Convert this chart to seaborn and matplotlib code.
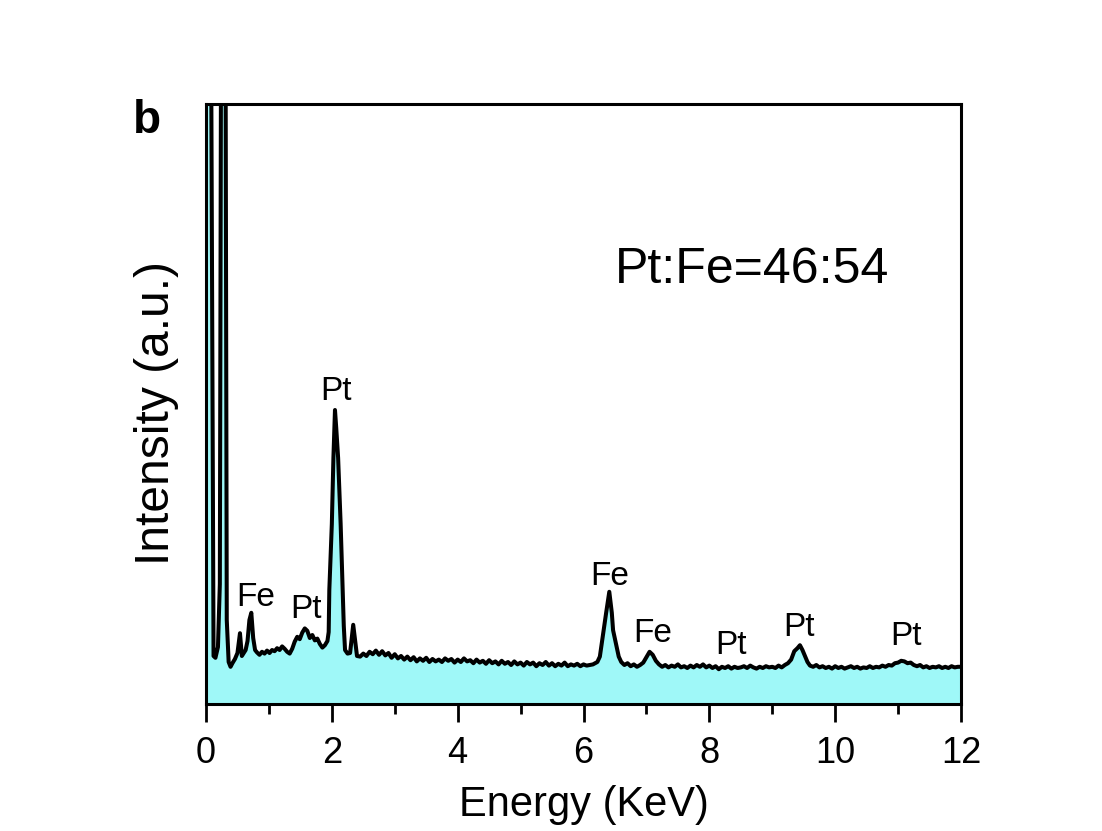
import matplotlib
matplotlib.use("Agg")
import matplotlib.pyplot as plt
import seaborn as sns
import pandas as pd
from matplotlib.ticker import MultipleLocator

# ---- data (energy in keV, intensity in a.u.) ----
energy = [
    0.00, 0.07, 0.12, 0.15, 0.19, 0.22, 0.245, 0.305, 0.33, 0.36, 0.39, 0.42, 0.46,
    0.50, 0.54, 0.57, 0.60, 0.63, 0.66, 0.69, 0.72, 0.75, 0.78, 0.81, 0.85, 0.89,
    0.93, 0.97, 1.01, 1.05, 1.09, 1.13, 1.17, 1.21, 1.25, 1.29, 1.33, 1.37, 1.41,
    1.45, 1.49, 1.53, 1.57, 1.61, 1.65, 1.69, 1.73, 1.77, 1.81, 1.85, 1.89, 1.93,
    1.95, 1.96, 2.00, 2.025, 2.05, 2.07, 2.10, 2.14, 2.17, 2.19, 2.21, 2.25, 2.29,
    2.34, 2.40, 2.45, 2.50, 2.55, 2.60, 2.65, 2.70, 2.75, 2.80, 2.85, 2.90, 2.95,
    3.00, 3.05, 3.10, 3.15, 3.20, 3.25, 3.30, 3.35, 3.40, 3.45, 3.50, 3.55, 3.60,
    3.65, 3.70, 3.75, 3.80, 3.85, 3.90, 3.95, 4.00, 4.05, 4.10, 4.15, 4.20, 4.25,
    4.30, 4.35, 4.40, 4.45, 4.50, 4.55, 4.60, 4.65, 4.70, 4.75, 4.80, 4.85, 4.90,
    4.95, 5.00, 5.05, 5.10, 5.15, 5.20, 5.25, 5.30, 5.35, 5.40, 5.45, 5.50, 5.55,
    5.60, 5.65, 5.70, 5.75, 5.80, 5.85, 5.90, 5.95, 6.00, 6.05, 6.10, 6.15, 6.22,
    6.26, 6.32, 6.36, 6.41, 6.45, 6.47, 6.56, 6.60, 6.65, 6.70, 6.75, 6.80, 6.85,
    6.90, 6.95, 7.00, 7.05, 7.10, 7.15, 7.20, 7.25, 7.30, 7.35, 7.40, 7.45, 7.50,
    7.55, 7.60, 7.65, 7.70, 7.75, 7.80, 7.85, 7.90, 7.95, 8.00, 8.05, 8.10, 8.15,
    8.20, 8.25, 8.30, 8.35, 8.40, 8.45, 8.50, 8.55, 8.60, 8.65, 8.70, 8.75, 8.80,
    8.85, 8.90, 8.95, 9.00, 9.05, 9.10, 9.15, 9.20, 9.25, 9.30, 9.35, 9.40, 9.44,
    9.48, 9.52, 9.56, 9.60, 9.65, 9.70, 9.75, 9.80, 9.85, 9.90, 9.95, 10.00, 10.05,
    10.10, 10.15, 10.20, 10.25, 10.30, 10.35, 10.40, 10.45, 10.50, 10.55, 10.60,
    10.65, 10.70, 10.75, 10.80, 10.85, 10.90, 10.95, 11.00, 11.05, 11.10, 11.15,
    11.20, 11.25, 11.30, 11.35, 11.40, 11.45, 11.50, 11.55, 11.60, 11.65, 11.70,
    11.75, 11.80, 11.85, 11.90, 11.95, 12.00,
]
intensity = [
    140, 140, 8.0, 7.7, 9.5, 20, 140, 140, 14, 7.0, 6.2, 6.8, 7.5,
    8.5, 11.8, 8.0, 8.5, 9.0, 10.5, 14.0, 15.2, 11.0, 9.0, 8.6, 8.2, 8.7,
    8.4, 8.9, 8.5, 9.0, 8.8, 9.3, 9.0, 9.6, 9.2, 8.7, 8.4, 9.2, 10.4,
    11.2, 10.8, 11.9, 12.6, 12.2, 11.0, 11.5, 10.6, 10.9, 10.0, 9.4, 9.8, 10.5,
    12.0, 19.0, 30.0, 41.0, 49.0, 46.0, 41.0, 30.0, 20.0, 13.0, 9.0, 8.4, 8.5,
    13.2, 8.0, 7.9, 8.4, 8.0, 8.7, 8.3, 8.9, 8.2, 8.8, 8.1, 8.5, 7.7,
    8.3, 7.6, 8.0, 7.4, 7.9, 7.3, 7.8, 7.1, 7.6, 7.2, 7.7, 7.0, 7.5,
    7.1, 7.4, 7.0, 7.6, 7.2, 7.5, 6.9, 7.4, 7.0, 7.6, 7.1, 7.3, 6.8,
    7.4, 6.9, 7.2, 6.7, 7.3, 6.8, 7.1, 6.6, 7.2, 6.7, 7.0, 6.5, 7.1,
    6.6, 6.9, 6.4, 7.0, 6.6, 6.9, 6.3, 6.8, 6.5, 7.0, 6.4, 6.8, 6.3,
    6.7, 6.4, 6.9, 6.3, 6.6, 6.4, 6.7, 6.3, 6.6, 6.4, 6.5, 6.6, 7.0,
    7.9, 12.3, 15.2, 18.7, 15.2, 12.3, 7.9, 7.0, 6.5, 6.8, 6.3, 6.6, 6.2,
    6.5, 6.9, 7.8, 8.7, 8.2, 7.2, 6.6, 6.2, 6.5, 6.1, 6.4, 6.2, 6.6,
    6.1, 6.3, 6.0, 6.4, 6.1, 6.5, 6.2, 6.6, 6.1, 6.4, 6.0, 6.3, 5.8,
    6.2, 6.0, 6.3, 5.9, 6.2, 6.0, 6.1, 6.3, 6.0, 6.4, 6.1, 5.9, 6.2,
    6.0, 6.3, 6.1, 6.2, 6.0, 6.4, 6.1, 6.5, 6.8, 7.4, 8.8, 9.3, 9.8,
    9.0, 8.0, 7.0, 6.4, 6.2, 6.5, 6.1, 6.3, 6.0, 6.2, 5.9, 6.3, 6.0,
    6.2, 5.9, 6.1, 6.3, 6.0, 6.2, 5.9, 6.1, 6.0, 6.3, 6.0,
    6.2, 6.1, 6.4, 6.2, 6.5, 6.4, 6.8, 6.9, 7.2, 7.1, 6.8,
    6.9, 6.5, 6.3, 6.5, 6.1, 6.3, 6.0, 6.2, 6.1, 6.3, 6.0,
    6.2, 6.0, 6.3, 6.1, 6.2, 6.2,
]

peak_labels = ["Fe", "Pt", "Pt", "Fe", "Fe", "Pt", "Pt", "Pt"]
label_x = [0.79, 1.59, 2.07, 6.41, 7.10, 8.35, 9.43, 11.13]
label_y = [17.8, 15.8, 52.0, 21.2, 11.7, 9.8, 12.8, 11.3]

ratio_text = "Pt:Fe=46:54"
panel_letter = "b"
x_ticks = [0, 2, 4, 6, 8, 10, 12]

df = pd.DataFrame({"Energy": energy, "Intensity": intensity})

sns.set_style("ticks")
plt.rcParams["font.family"] = ["Liberation Sans", "DejaVu Sans"]
plt.rcParams["text.color"] = "black"
plt.rcParams["axes.labelcolor"] = "black"
plt.rcParams["xtick.color"] = "black"

fig = plt.figure(figsize=(11.02, 8.31), dpi=100)
ax = fig.add_axes([206 / 1102, 1 - 704 / 831, 755 / 1102, 600 / 831])

ax.fill_between(df["Energy"], df["Intensity"], 0, color="#9ff8f8", linewidth=0, zorder=1)
sns.lineplot(data=df, x="Energy", y="Intensity", ax=ax, color="black",
             linewidth=2.9, sort=False, estimator=None, zorder=2)

ax.set_xlim(0, 12)
ax.set_ylim(0, 100)
ax.set_xticks(x_ticks)
ax.xaxis.set_minor_locator(MultipleLocator(1))
ax.set_yticks([])
ax.tick_params(axis="x", which="major", direction="out", length=13, width=2,
               labelsize=26, pad=10, colors="black")
ax.tick_params(axis="x", which="minor", direction="out", length=7.5, width=2,
               colors="black")
for sp in ax.spines.values():
    sp.set_linewidth(2.2)
    sp.set_color("black")
    sp.set_zorder(5)

ax.set_xlabel("Energy (KeV)", fontsize=30, color="black")
ax.set_ylabel("Intensity (a.u.)", fontsize=34.5, color="black")
ax.xaxis.set_label_coords(0.5, -0.135)
ax.yaxis.set_label_coords(-0.036, 0.485)

for t, lx, ly in zip(peak_labels, label_x, label_y):
    ax.text(lx, ly, t, fontsize=24, ha="center", va="center", color="black")

ax.text(8.68, 72.3, ratio_text, fontsize=36, ha="center", va="center", color="black")
fig.text(147 / 1102, 1 - 121 / 831, panel_letter, fontsize=33, fontweight="bold",
         ha="center", va="center", color="black")

fig.savefig("out.png", dpi=100, facecolor="white")
